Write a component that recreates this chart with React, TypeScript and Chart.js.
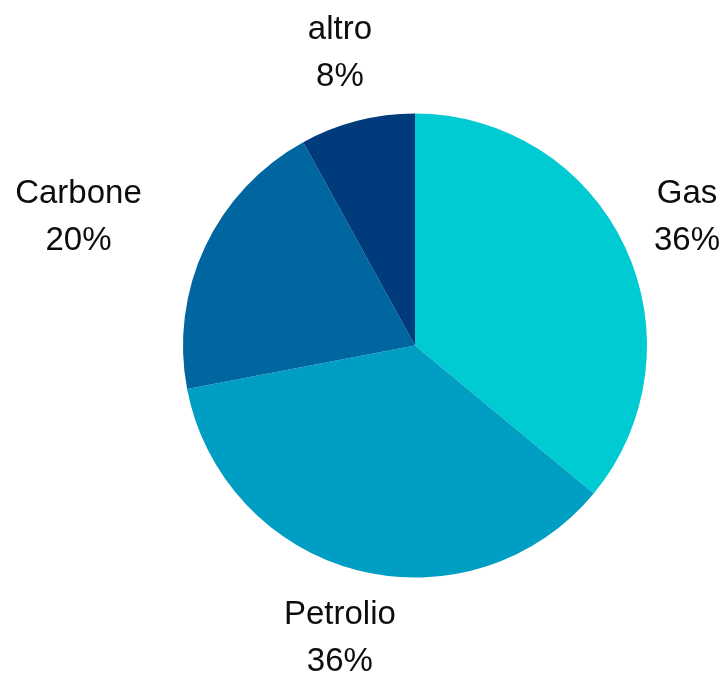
import React, { useEffect, useRef } from "react";
import { Chart, registerables } from "chart.js";

Chart.register(...registerables);

const categories = ["Gas", "Petrolio", "Carbone", "altro"];
const values = [36, 36, 20, 8];
const colors = ["#00CAD2", "#009EC2", "#00669F", "#003B7C"];

const FONT_SIZE = 33;
const LINE_H = 47;
const LABEL_GAP = 70;

const outerLabels = {
  id: "outerLabels",
  afterDatasetsDraw(chart: any) {
    const ctx = chart.ctx;
    const meta = chart.getDatasetMeta(0);
    const data = chart.data.datasets[0].data as number[];
    const total = data.reduce((a, b) => a + b, 0);
    ctx.save();
    ctx.font = `${FONT_SIZE}px "Liberation Sans", Arial, sans-serif`;
    ctx.fillStyle = "#0d0d0d";
    ctx.textBaseline = "middle";
    meta.data.forEach((arc: any, i: number) => {
      const p = arc.getProps(["x", "y", "startAngle", "endAngle", "outerRadius"], true);
      const mid = (p.startAngle + p.endAngle) / 2;
      const dx = Math.cos(mid);
      const dy = Math.sin(mid);
      const L = p.outerRadius + LABEL_GAP;
      const px = p.x + dx * L;
      const py = p.y + dy * L;
      const lines = [chart.data.labels[i], Math.round((data[i] / total) * 100) + "%"];
      const w = Math.max(...lines.map((t: string) => ctx.measureText(t).width));
      let left: number;
      if (dx < -0.5) left = px - w;
      else if (dx > 0.5) left = px;
      else left = px - w / 2;
      left = Math.max(4, Math.min(chart.width - 5 - w, left));
      const cxText = left + w / 2;
      ctx.textAlign = "center";
      lines.forEach((t: string, k: number) => {
        ctx.fillText(t, cxText, py + (k - (lines.length - 1) / 2) * LINE_H);
      });
    });
    ctx.restore();
  },
};

export default function App() {
  const ref = useRef<HTMLCanvasElement>(null);
  useEffect(() => {
    document.body.style.margin = "0";
    const chart = new Chart(ref.current!, {
      type: "pie",
      data: {
        labels: categories,
        datasets: [
          {
            data: values,
            backgroundColor: colors,
            borderWidth: 0,
          },
        ],
      },
      options: {
        responsive: false,
        animation: false,
        layout: { padding: { top: 113, bottom: 96, left: 183, right: 78 } },
        plugins: {
          legend: { display: false },
          tooltip: { enabled: false },
        },
      },
      plugins: [outerLabels],
    });
    return () => chart.destroy();
  }, []);
  return (
    <div style={{ width: 725, height: 674, background: "#fff" }}>
      <canvas ref={ref} width={725} height={674} style={{ display: "block" }} />
    </div>
  );
}
